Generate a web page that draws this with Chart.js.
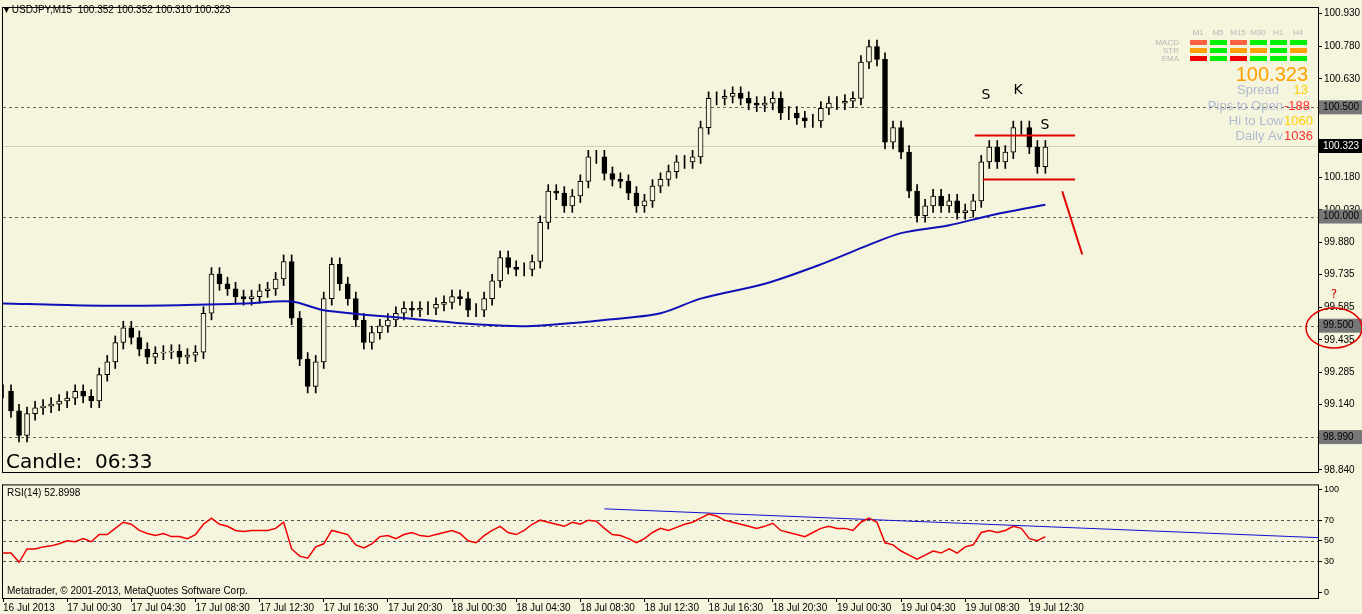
<!DOCTYPE html>
<html><head><meta charset="utf-8">
<script src="https://cdn.jsdelivr.net/npm/chart.js@4"></script>
<style>
body{margin:0;background:#f5f4dc;width:1362px;height:614px;overflow:hidden;position:relative;font-family:"DejaVu Sans",sans-serif}
#c1{position:absolute;left:0;top:0}
#c2{position:absolute;left:0;top:478px}
</style></head><body>
<canvas id="c1" width="1362" height="480"></canvas>
<canvas id="c2" width="1362" height="136"></canvas>
<script>
const closes=[99.199,99.110,98.998,99.097,99.124,99.132,99.141,99.155,99.168,99.199,99.177,99.155,99.276,99.334,99.423,99.490,99.446,99.392,99.356,99.374,99.379,99.383,99.356,99.365,99.379,99.557,99.736,99.692,99.669,99.633,99.624,99.633,99.660,99.669,99.714,99.794,99.535,99.347,99.222,99.334,99.624,99.781,99.692,99.624,99.526,99.423,99.468,99.499,99.526,99.557,99.580,99.571,99.580,99.580,99.598,99.607,99.633,99.624,99.571,99.571,99.624,99.705,99.812,99.767,99.758,99.758,99.794,99.973,100.116,100.107,100.049,100.094,100.161,100.273,100.273,100.197,100.170,100.161,100.107,100.049,100.072,100.139,100.170,100.206,100.250,100.250,100.273,100.407,100.541,100.541,100.550,100.564,100.541,100.519,100.510,100.519,100.541,100.474,100.474,100.452,100.438,100.438,100.496,100.519,100.519,100.528,100.541,100.707,100.778,100.720,100.340,100.407,100.295,100.116,100.004,100.049,100.094,100.049,100.072,100.018,100.027,100.072,100.250,100.318,100.250,100.295,100.407,100.407,100.318,100.228,100.318];
const maIdx=[0,10,20,30,36,40,50,60,66,75,82,87,95,102,108,112,118,123,130];
const maVal=[99.602,99.593,99.593,99.602,99.611,99.571,99.535,99.504,99.499,99.526,99.557,99.624,99.692,99.781,99.870,99.924,99.960,100.004,100.054];
const rsi=[38,38,29,42,42,44,45,47,50,49,52,49,56,56,62,68,66,60,57,55,57,54,54,52,56,66,72,66,64,60,59,60,60,60,62,68,42,35,33,44,47,60,58,56,46,43,47,54,55,52,56,58,55,54,56,58,60,57,50,48,55,60,64,58,56,60,66,70,68,66,64,68,66,70,69,62,56,55,52,48,52,58,62,60,63,66,68,72,76,74,70,68,66,64,62,64,67,60,58,56,54,58,62,64,62,62,60,68,72,68,48,46,40,36,32,36,40,38,42,38,44,46,58,60,58,60,64,62,52,50,54];
const timeLabels=["16 Jul 2013","17 Jul 00:30","17 Jul 04:30","17 Jul 08:30","17 Jul 12:30","17 Jul 16:30","17 Jul 20:30","18 Jul 00:30","18 Jul 04:30","18 Jul 08:30","18 Jul 12:30","18 Jul 16:30","18 Jul 20:30","19 Jul 00:30","19 Jul 04:30","19 Jul 08:30","19 Jul 12:30"];
const priceTicks=[100.930,100.780,100.630,100.480,100.330,100.180,100.030,99.880,99.735,99.585,99.435,99.285,99.140,98.990,98.840];
const rsiTicks=[0,30,50,70,100];
const levels=[100.500,100.000,99.500,98.990];
const lastPrice=100.323;
const N=165;
const labels=Array.from({length:N},(_,i)=>i);
const opens=closes.map((c,i)=>i?closes[i-1]:c);
const bodies=closes.map((c,i)=>[opens[i],c]);
const wickPad=0.03;
const wicks=closes.map((c,i)=>[Math.min(c,opens[i])-wickPad,Math.max(c,opens[i])+wickPad]);
const ma=labels.map(i=>{const k=maIdx.indexOf(i);return k>=0?maVal[k]:null;});
const BG='#f5f4dc';
const AX='"Liberation Sans",sans-serif';
Chart.defaults.font.family='"DejaVu Sans",sans-serif';
Chart.defaults.font.size=10;
Chart.defaults.color='#000';
Chart.defaults.animation=false;
function fitY(s){s.width=44;}
const mainOverlay={id:'ov',
beforeDatasetsDraw(ch){const {ctx,chartArea:a,scales:{y}}=ch;ctx.save();
 ctx.strokeStyle='#666';ctx.setLineDash([3,3]);ctx.lineWidth=1;
 levels.forEach(v=>{const py=Math.round(y.getPixelForValue(v))+.5;ctx.beginPath();ctx.moveTo(a.left,py);ctx.lineTo(a.right,py);ctx.stroke();});
 ctx.setLineDash([]);ctx.strokeStyle='#d0cfc0';const py=Math.round(y.getPixelForValue(lastPrice))+.5;ctx.beginPath();ctx.moveTo(a.left,py);ctx.lineTo(a.right,py);ctx.stroke();
 ctx.restore();},
afterDraw(ch){const {ctx,chartArea:a,scales:{x,y}}=ch;ctx.save();
 ctx.strokeStyle='#000';ctx.lineWidth=1;ctx.strokeRect(a.left-.5,a.top-.5,a.right-a.left+1,a.bottom-a.top+1);
 const box=(v,bg,fg)=>{const py=y.getPixelForValue(v);ctx.fillStyle=bg;ctx.fillRect(a.right+1,py-7,43,14);ctx.fillStyle=fg;ctx.font='10px '+AX;ctx.textBaseline='middle';ctx.textAlign='left';ctx.fillText(v.toFixed(3),a.right+5,py);};
 levels.forEach(v=>box(v,'#777','#000'));box(lastPrice,'#000','#fff');
 ctx.strokeStyle='#e00000';ctx.lineWidth=2;
 const seg=(i1,v1,i2,v2)=>{ctx.beginPath();ctx.moveTo(x.getPixelForValue(i1),y.getPixelForValue(v1));ctx.lineTo(x.getPixelForValue(i2),y.getPixelForValue(v2));ctx.stroke();};
 seg(121.2,100.371,133.7,100.371);seg(122.2,100.170,133.7,100.170);seg(132.1,100.116,134.6,99.826);
 ctx.fillStyle='#000';ctx.font='14px "DejaVu Sans"';ctx.textAlign='center';ctx.textBaseline='middle';
 ctx.fillText('S',986,95);ctx.fillText('K',1018,90);ctx.fillText('S',1045,125);
 ctx.strokeStyle='#e00000';ctx.lineWidth=1.5;ctx.beginPath();ctx.ellipse(1334,328,28,20,0,0,Math.PI*2);ctx.stroke();
 ctx.fillStyle='#e00000';ctx.font='12px "DejaVu Sans"';ctx.fillText('?',1334,295);
 ctx.fillStyle='#000';ctx.textAlign='left';ctx.font='10px '+AX;ctx.fillText('▾ USDJPY,M15  100.352 100.352 100.310 100.323',4,10);
 ctx.font='20px "DejaVu Sans"';ctx.fillText('Candle:  06:33',6,463);
 ctx.font='8px '+AX;ctx.fillStyle='#b8b8b8';ctx.textAlign='center';
 ['M1','M5','M15','M30','H1','H4'].forEach((t,k)=>ctx.fillText(t,1198+k*20,33));
 ctx.textAlign='right';['MACD','STR','EMA'].forEach((t,k)=>ctx.fillText(t,1179,43+k*8));
 const cols=[['#ff6040','#00f000','#ff6040','#00f000','#00f000','#00f000'],['#ffa000','#00f000','#ffa000','#ffa000','#00f000','#ffa000'],['#f00000','#00f000','#f00000','#00f000','#00f000','#00f000']];
 cols.forEach((r,j)=>r.forEach((c,k)=>{ctx.fillStyle=c;ctx.fillRect(1190+k*20,40+j*8,17,5);}));
 ctx.font='20px '+AX;ctx.fillStyle='#ffa000';ctx.textAlign='right';ctx.fillText('100.323',1308,75);
 ctx.font='13px '+AX;
 const row=(l,v,vc,yy)=>{ctx.fillStyle='#b0bcd0';ctx.textAlign='right';ctx.fillText(l,1283,yy);ctx.fillStyle=vc;ctx.textAlign='left';ctx.fillText(v,1284,yy);};
 ctx.fillStyle='#b0bcd0';ctx.textAlign='right';ctx.fillText('Spread',1279,90);ctx.fillStyle='#ffd000';ctx.fillText('13',1308,90);
 row('Pips to Open','-188','#ff3030',106);row('Hi to Low','1060','#ffd000',121);row('Daily Av','1036','#ff3030',136);
 ctx.restore();}};
new Chart(document.getElementById('c1'),{type:'bar',
 data:{labels,datasets:[
  {type:'line',data:ma,borderColor:'#1010b8',borderWidth:2,pointRadius:0,spanGaps:true,tension:0.3,order:0},
  {data:wicks,backgroundColor:'#000',barThickness:1,grouped:false,order:2},
  {data:bodies,backgroundColor:bodies.map(b=>b[1]>=b[0]?BG:'#000'),borderColor:'#000',borderWidth:1,borderSkipped:false,barThickness:5,grouped:false,order:1}]},
 options:{responsive:false,layout:{padding:{left:3,top:3,right:0,bottom:0}},
  plugins:{legend:{display:false},tooltip:{enabled:false}},
  scales:{x:{offset:false,display:false},
   y:{position:'right',min:98.83,max:100.955,afterFit:fitY,afterBuildTicks(s){s.ticks=priceTicks.map(v=>({value:v}));},
    grid:{drawOnChartArea:false,tickLength:4,color:'#000'},border:{color:'#000'},ticks:{padding:2,callback:v=>v.toFixed(3),font:{size:10,family:AX}}}}},
 plugins:[mainOverlay]});
const rsiOverlay={id:'ov2',
beforeDatasetsDraw(ch){const {ctx,chartArea:a,scales:{y,x}}=ch;ctx.save();ctx.strokeStyle='#555';ctx.setLineDash([3,3]);
 [30,50,70].forEach(v=>{const py=Math.round(y.getPixelForValue(v))+.5;ctx.beginPath();ctx.moveTo(a.left,py);ctx.lineTo(a.right,py);ctx.stroke();});
 ctx.setLineDash([]);ctx.strokeStyle='#1010d0';ctx.lineWidth=1;ctx.beginPath();ctx.moveTo(x.getPixelForValue(75),y.getPixelForValue(81));ctx.lineTo(a.right,y.getPixelForValue(53));ctx.stroke();ctx.restore();},
afterDraw(ch){const {ctx,chartArea:a}=ch;ctx.save();ctx.strokeStyle='#000';ctx.strokeRect(a.left-.5,a.top-.5,a.right-a.left+1,a.bottom-a.top+1);
 ctx.fillStyle='#000';ctx.font='10px '+AX;ctx.textBaseline='middle';ctx.fillText('RSI(14) 52.8998',7,a.top+8);
 ctx.fillText('Metatrader, © 2001-2013, MetaQuotes Software Corp.',7,a.bottom-7);ctx.restore();}};
new Chart(document.getElementById('c2'),{type:'line',
 data:{labels,datasets:[{data:rsi,borderColor:'#f00000',borderWidth:1.5,pointRadius:0}]},
 options:{responsive:false,layout:{padding:{left:3,top:4,right:0,bottom:0}},
  plugins:{legend:{display:false},tooltip:{enabled:false}},
  scales:{x:{offset:false,grid:{drawOnChartArea:false,tickLength:4,color:'#000'},border:{color:'#000'},
    afterBuildTicks(s){s.ticks=timeLabels.map((t,k)=>({value:k*8}));},
    ticks:{autoSkip:false,maxRotation:0,align:'start',padding:0,font:{size:10,family:AX},callback:(v)=>timeLabels[v/8]}},
   y:{position:'right',min:-5.7,max:103.8,afterFit:fitY,afterBuildTicks(s){s.ticks=rsiTicks.map(v=>({value:v}));},
    grid:{drawOnChartArea:false,tickLength:4,color:'#000'},border:{color:'#000'},ticks:{padding:2,font:{size:9,family:AX}}}}},
 plugins:[rsiOverlay]});
</script></body></html>
